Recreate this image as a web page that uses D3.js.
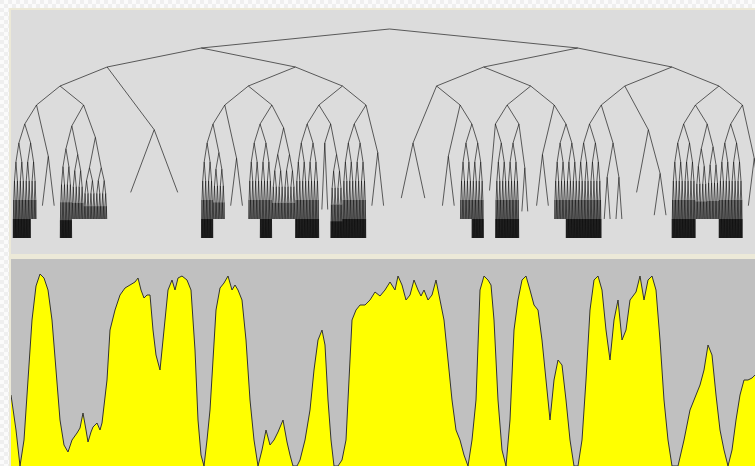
<!DOCTYPE html>
<html>
<head>
<meta charset="utf-8">
<script src="https://cdn.jsdelivr.net/npm/d3@7"></script>
<style>
  body { margin: 0; overflow: hidden; background: #fff; }
</style>
</head>
<body>
<svg id="chart" width="755" height="466"></svg>
<script>
// tree spec: number = leaf at that level, [level, left, right] = split node,
// {to, t} = full split down to level `to` (node level t, default its depth)
const slot0 = [5, {to: 11}, [6, {to: 11}, {to: 10}]];
const slot1 = [6.7, 9.3, 9.3];
const slot2 = [5.1, {t: 6.3, to: 11}, {t: 6.6, to: 10}];
const slot3 = [5.7, {t: 7.3, to: 10}, {t: 7.3, to: 10}];
const slot8 = [5, {to: 11}, {t: 6.5, to: 10}];
const slot9 = [6.8, 9.3, 9.3];
const slot10 = [5, {to: 10}, {to: 11}];
const slot11 = [5.2, {t: 6.6, to: 10}, {t: 6.6, to: 10}];
const slot12 = [5, {to: 11}, {to: 11}];
const slot13 = [5, [6, 9.5, 9.5], {t: 6.6, to: 11}];
const slot14 = [5, {to: 11}, {to: 11}];
const slot15 = [6.5, 9.3, 9.3];
const slot18 = [6.7, 9.3, 9.3];
const slot19 = [5, {to: 10}, {to: 11}];
const slot20 = [5, 8.5, {to: 11}];
const slot21 = [5, {to: 11}, [7.3, 9.6, 9.6]];
const slot22 = [6.6, 9.3, 9.3];
const slot23 = [5, {to: 10}, {to: 11}];
const slot24 = [5, {to: 11}, {to: 11}];
const slot25 = [6, [7.8, 10, 10], [7.8, 10, 10]];
const slot28 = [5, {to: 11}, {to: 11}];
const slot29 = [5, {t: 6.3, to: 10}, {t: 6.2, to: 10}];
const slot30 = [5, {to: 11}, {to: 11}];
const slot31 = [6.8, 9.3, 9.3];

const tree = [0,
  [1,
    [2,
      [3, [4, slot0, slot1], [4, slot2, slot3]],
      [5.3, 8.6, 8.6]],
    [2,
      [3, [4, slot8, slot9], [4, slot10, slot11]],
      [3, [4, slot12, slot13], [4, slot14, slot15]]]],
  [1,
    [2,
      [3, [6, 8.9, 8.9], [4, slot18, slot19]],
      [3, [4, slot20, slot21], [4, slot22, slot23]]],
    [2,
      [3, [4, slot24, slot25], [5.3, 8.6, [7.6, 9.8, 9.8]]],
      [3, [4, slot28, slot29], [4, slot30, slot31]]]]];

// lower panel profile: position (px from left of panel) and height above baseline
const profilePos = [0, 5, 9, 13, 17, 21, 25, 29, 33, 37, 41, 45, 49, 53, 57, 61, 66, 69, 72,
  75, 77, 80, 82, 86, 89, 91, 96, 99, 104, 109, 114, 119, 124, 127, 130, 133, 136, 139,
  142, 145, 149, 153, 157, 161, 164, 167, 171, 176, 180, 184, 187, 190, 193, 196, 199,
  202, 205, 209, 213, 217, 221, 224, 227, 231, 235, 239, 243, 247, 251, 255, 259, 263,
  267, 272, 276, 279, 282, 286, 289, 294, 299, 303, 307, 311, 314, 317, 320, 323, 327,
  331, 335, 338, 341, 345, 349, 354, 359, 364, 369, 374, 379, 384, 387, 391, 395, 399,
  403, 407, 410, 413, 417, 421, 425, 429, 433, 437, 441, 445, 449, 453, 457, 461, 465,
  469, 473, 477, 480, 483, 487, 491, 495, 499, 503, 507, 511, 515, 519, 523, 527, 531,
  535, 539, 543, 547, 551, 555, 559, 563, 567, 571, 575, 579, 583, 587, 591, 595, 599,
  603, 607, 611, 615, 619, 625, 629, 633, 637, 641, 645, 649, 653, 657, 661, 667, 673,
  679, 685, 689, 693, 697, 701, 705, 709, 713, 717, 721, 725, 729, 733, 737, 741, 744];
const profileVal = [71, 36, 0, 26, 86, 146, 180, 192, 188, 176, 146, 96, 46, 21, 14, 26,
  33, 38, 53, 36, 24, 34, 39, 43, 36, 43, 86, 136, 156, 171, 178, 181, 184, 188, 176, 168,
  171, 171, 136, 111, 96, 136, 176, 186, 176, 188, 190, 186, 176, 116, 46, 11, 0, 26, 56,
  106, 156, 178, 183, 190, 176, 181, 176, 166, 126, 66, 26, 0, 16, 36, 21, 26, 34, 46, 24,
  11, 0, 0, 6, 26, 56, 96, 126, 136, 121, 66, 26, 0, 0, 6, 26, 86, 146, 156, 161, 161, 166,
  174, 170, 176, 184, 176, 190, 181, 166, 171, 186, 176, 170, 176, 166, 171, 186, 166, 146,
  106, 66, 36, 26, 11, 0, 26, 66, 176, 190, 186, 181, 146, 66, 16, 0, 46, 136, 166, 186,
  190, 176, 161, 156, 126, 86, 46, 86, 106, 101, 66, 26, 0, 0, 26, 86, 156, 186, 190, 176,
  136, 106, 146, 166, 126, 136, 166, 174, 190, 166, 186, 190, 176, 126, 66, 26, 0, 0, 26,
  56, 71, 81, 96, 121, 111, 71, 36, 16, 0, 16, 46, 71, 86, 86, 88, 91];

const W = 755, H = 466;
const panelLeft = 11, panelTop = 10, sepTop = 254, lowerTop = 259;

const svg = d3.select('#chart');

// transparent-looking backdrop
const defs = svg.append('defs');
const pat = defs.append('pattern')
  .attr('id', 'checks')
  .attr('width', 8)
  .attr('height', 8)
  .attr('patternUnits', 'userSpaceOnUse');
pat.append('rect').attr('width', 8).attr('height', 8).attr('fill', '#fbfbfb');
pat.append('rect').attr('width', 4).attr('height', 4).attr('fill', '#efefef');
pat.append('rect').attr('x', 4).attr('y', 4).attr('width', 4).attr('height', 4).attr('fill', '#efefef');
defs.append('clipPath').attr('id', 'topClip')
  .append('rect').attr('x', panelLeft).attr('y', panelTop)
  .attr('width', W - panelLeft).attr('height', sepTop - panelTop);
defs.append('clipPath').attr('id', 'lowClip')
  .append('rect').attr('x', panelLeft).attr('y', lowerTop)
  .attr('width', W - panelLeft).attr('height', H - lowerTop);

svg.append('rect').attr('width', W).attr('height', H).attr('fill', 'url(#checks)');
svg.append('rect')
  .attr('x', panelLeft - 2).attr('y', panelTop - 2)
  .attr('width', W).attr('height', H)
  .attr('fill', '#ece9d8');
svg.append('rect')
  .attr('x', panelLeft).attr('y', panelTop)
  .attr('width', W - panelLeft).attr('height', sepTop - panelTop)
  .attr('fill', '#dcdcdc');
svg.append('rect')
  .attr('x', panelLeft).attr('y', lowerTop)
  .attr('width', W - panelLeft).attr('height', H - lowerTop)
  .attr('fill', '#c0c0c0');

// ---- tree ----
const x = d3.scaleLinear().domain([0, 1]).range([13, 766]);
const yLevel = d3.scaleLinear().domain([0, 11]).range([29, 238]);

const links = [];
function place(spec, lo, hi, depth, parent) {
  const mid = (lo + hi) / 2;
  let t, kids = [];
  if (typeof spec === 'number') {
    t = spec;
  } else if (Array.isArray(spec)) {
    t = spec[0];
    kids = [spec[1], spec[2]];
  } else {
    t = spec.t !== undefined ? spec.t : depth;
    if (depth < spec.to) {
      // spread remaining levels evenly down to the bottom level
      const next = t + (spec.to - t) / (spec.to - depth);
      kids = [{to: spec.to, t: next}, {to: spec.to, t: next}];
    }
  }
  const node = {x: x(mid), y: yLevel(t)};
  if (parent) links.push({source: parent, target: node});
  kids.forEach((k, i) => place(k, i ? mid : lo, i ? hi : mid, depth + 1, node));
}
place(tree, 0, 1, 0, null);

svg.append('g')
  .attr('class', 'links')
  .attr('clip-path', 'url(#topClip)')
  .selectAll('line')
  .data(links)
  .enter()
  .append('line')
  .attr('x1', d => d.source.x)
  .attr('y1', d => d.source.y)
  .attr('x2', d => d.target.x)
  .attr('y2', d => d.target.y)
  .attr('stroke', '#000')
  .attr('stroke-opacity', 0.6)
  .attr('stroke-width', 1);

// ---- profile ----
const px = d3.scaleLinear().domain([0, 744]).range([panelLeft, W]);
const py = d3.scaleLinear().domain([0, 207]).range([H, lowerTop]);
const pts = profilePos.map((p, i) => [p, profileVal[i]]);

const low = svg.append('g').attr('clip-path', 'url(#lowClip)');
low.append('path')
  .datum(pts)
  .attr('fill', '#ffff00')
  .attr('d', d3.area().x(d => px(d[0])).y0(H + 2).y1(d => py(d[1])));
low.append('path')
  .datum(pts)
  .attr('fill', 'none')
  .attr('stroke', '#333')
  .attr('stroke-width', 1)
  .attr('d', d3.line().x(d => px(d[0])).y(d => py(d[1])));
</script>
</body>
</html>
